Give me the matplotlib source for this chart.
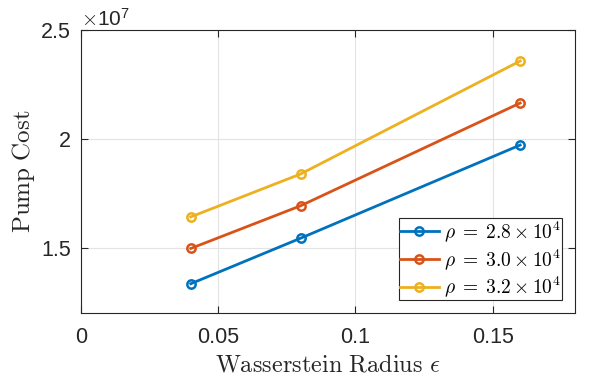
import numpy as np
import matplotlib
matplotlib.use('Agg')
import matplotlib.pyplot as plt
from matplotlib.ticker import ScalarFormatter

plt.rcParams['mathtext.fontset'] = 'cm'
plt.rcParams['font.family'] = ['Liberation Sans', 'DejaVu Sans']

# data
radius = [0.04, 0.08, 0.16]
cost_28 = [1.334e7, 1.543e7, 1.971e7]
cost_30 = [1.496e7, 1.692e7, 2.164e7]
cost_32 = [1.641e7, 1.838e7, 2.357e7]
labels = [r'$\rho \;=\; 2.8 \times 10^4$', r'$\rho \;=\; 3.0 \times 10^4$', r'$\rho \;=\; 3.2 \times 10^4$']
colors = ['#0072BD', '#D95319', '#EDB120']


class ShortFmt(ScalarFormatter):
    # matlab style: 2 instead of 2.0
    def _set_format(self):
        self.format = '%g'


fig = plt.figure(figsize=(5.91, 3.83), dpi=100)
ax = fig.add_axes([0.137, 0.183, 0.836, 0.739])

for ys, lab, c in zip([cost_28, cost_30, cost_32], labels, colors):
    ax.plot(radius, ys, '-o', color=c, lw=2, ms=6, mfc='none', mew=1.8, label=lab)

ax.set_xlim(0, 0.18)
ax.set_ylim(1.2e7, 2.5e7)
ax.set_xticks([0, 0.05, 0.1, 0.15])
ax.set_xticklabels(['0', '0.05', '0.1', '0.15'])
ax.set_yticks([1.5e7, 2e7, 2.5e7])

fmt = ShortFmt(useMathText=True)
fmt.set_powerlimits((0, 0))
ax.yaxis.set_major_formatter(fmt)
ax.yaxis.get_offset_text().set_fontsize(15)
ax.yaxis.get_offset_text().set_color('#262626')

ax.grid(True, color='#e3e3e3', lw=0.8)
ax.set_axisbelow(True)
ax.tick_params(direction='in', labelsize=15.5, colors='#262626', length=5, top=True, right=True)
ax.tick_params(axis='x', pad=10)
ax.tick_params(axis='y', pad=7)
for s in ax.spines.values():
    s.set_color('#262626')
    s.set_linewidth(0.8)

ax.set_xlabel(r'$\mathrm{Wasserstein\ Radius}\ \epsilon$', fontsize=17.5, color='#262626', labelpad=5)
ax.set_ylabel(r'$\mathrm{Pump\ Cost}$', fontsize=18, color='#262626', labelpad=3)

leg = ax.legend(loc='lower right', fontsize=14, fancybox=False, framealpha=1,
                edgecolor='#262626', handlelength=2.0, handletextpad=0.3,
                borderpad=0.05, labelspacing=0.15, borderaxespad=0.65)
leg.get_frame().set_linewidth(0.8)

fig.savefig('out.png', dpi=100)
